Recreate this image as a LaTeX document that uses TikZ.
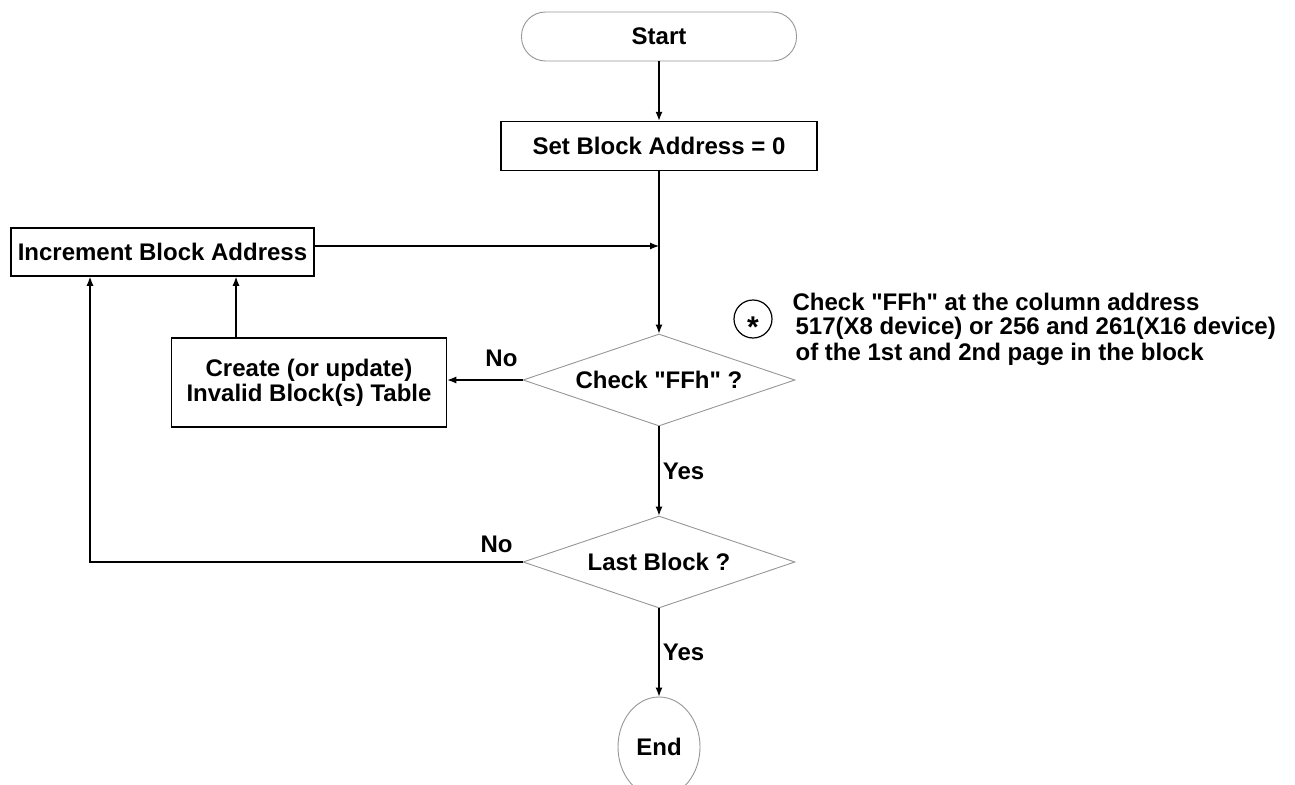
\documentclass[tikz,border=0pt]{standalone}
\usepackage{fontspec}
\setmainfont{Liberation Sans}[Ligatures=TeXOff]
\usepackage{tikz}
\usetikzlibrary{shapes.geometric, positioning, arrows.meta, calc}
\definecolor{shapegray}{RGB}{150,150,150}

\begin{document}
\begin{tikzpicture}[x=1pt,y=1pt,>={Latex[length=9pt,width=7pt]},line width=1.2pt,
                    every node/.style={font=\bfseries\fontsize{24}{25}\selectfont},
                    block node/.style={rectangle,draw,line width=1.5pt,inner sep=0pt},
                    gray node/.style={draw=shapegray,line width=0.9pt,inner sep=0pt},
                    test node/.style={gray node,diamond,aspect=3,minimum width=272pt,minimum height=92pt},
                    note node/.style={anchor=base west,inner sep=0pt}]

  \useasboundingbox (0,0) rectangle (1295,-784);

  \node[gray node, rounded corners=24pt, minimum width=275pt, minimum height=49pt] (1) at (659,-36.5) {Start};
  \node[block node, minimum width=316pt, minimum height=49pt] (2) [below of=1, node distance=109.5pt] {Set Block Address = 0};
  \node[test node] (3) [below of=2, node distance=234pt] {Check "FFh" ?};
  \node[test node] (4) [below of=3, node distance=182pt] {Last Block ?};
  \node[gray node, ellipse, minimum width=82pt, minimum height=100pt] (5) [below of=4, node distance=185pt] {End};
  \node[block node, minimum width=303pt, minimum height=48pt] (6) at (162.5,-252) {Increment Block Address};
  \node[block node, minimum width=275pt, minimum height=89pt, align=center] (7) at (309,-382.5) {Create (or update)\\Invalid Block(s) Table};

  % note beside the check
  \node[circle, draw, minimum size=38pt, inner sep=0pt] (8) at (753,-319)
       {\fontsize{30}{30}\selectfont\raisebox{-18pt}[0pt][0pt]{*}};
  \node[note node] (9) at (792,-310) {Check "FFh" at the column address};
  \node[note node] (10) at (795,-334) {517(X8 device) or 256 and 261(X16 device)};
  \node[note node] (11) at (795,-360) {of the 1st and 2nd page in the block};

  \coordinate (c1) at (90,-562);

  \path[->]
    (1) edge (2)
    (2) edge (3)
    (3) edge node[right] {Yes} (4)
    (4) edge node[right] {Yes} (5)
    (3.west) edge node[above=9pt, pos=.28] {No} (3.west -| 7.east);

  \draw[->] ([yshift=6pt]6.east) -- ([yshift=6pt]6.east -| 2.south);
  \draw[->] ([xshift=-73pt]7.north) -- ([xshift=-73pt]7.north |- 6.south);
  \draw[->] (4.west) -- node[above=5pt, pos=.06] {No} (c1) -- (c1 |- 6.south);

\end{tikzpicture}
\end{document}
